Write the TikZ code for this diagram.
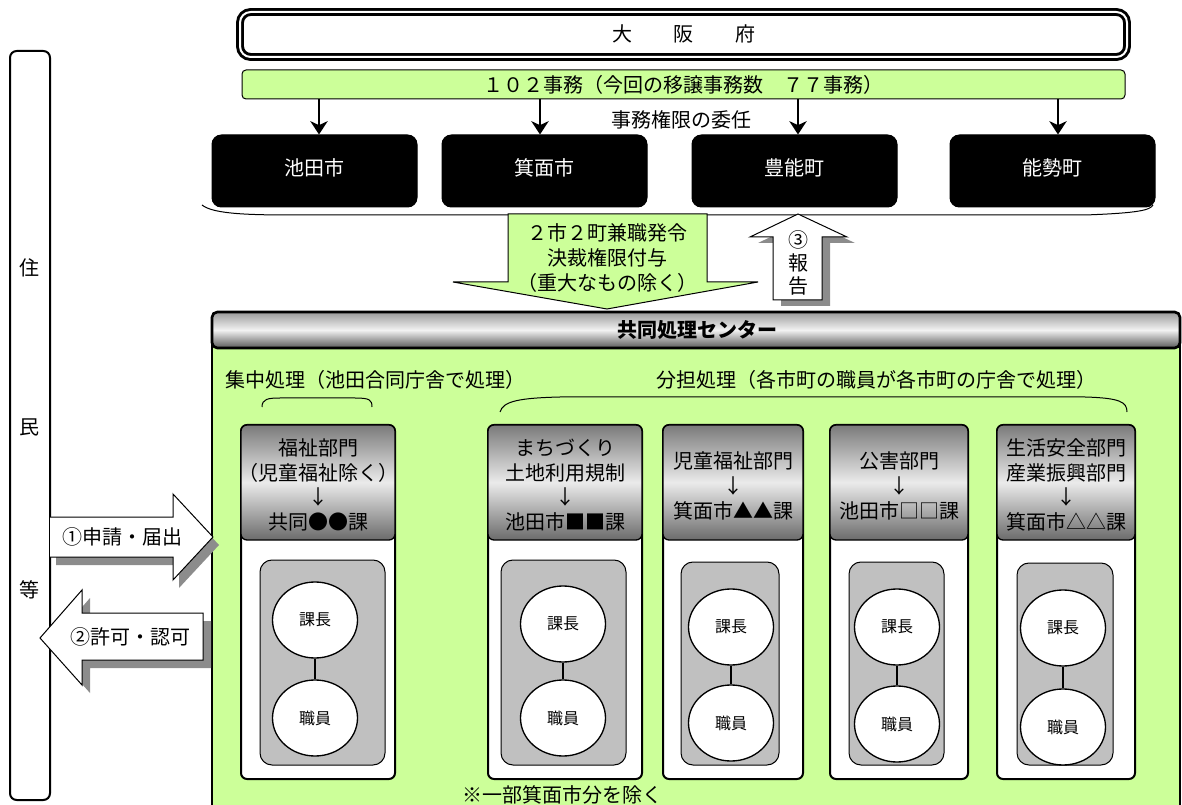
\documentclass[tikz,border=0pt]{standalone}
\usepackage{fontspec}
\setmainfont{Noto Sans CJK JP}
\usetikzlibrary{arrows.meta,fit,shapes.geometric}

\definecolor{kgreen}{RGB}{204,255,153}
\definecolor{kgray}{RGB}{192,192,192}

\tikzset{every picture/.style={line width=0.75pt},
  lbl/.style={font=\fontsize{15}{18.5}\selectfont, align=center, inner sep=0pt},
  blackbox/.style={draw, fill=black, rounded corners=7pt, inner sep=0pt},
  deptbox/.style={draw, fill=white, line width=1.5pt, rounded corners=4.5pt, inner sep=0pt},
  depthead/.style={draw, line width=1pt, rounded corners=4.5pt, inner sep=0pt, top color=black!52, bottom color=black!58, middle color=black!8},
  staffbox/.style={draw, fill=kgray, rounded corners=9pt, inner sep=0pt},
  post/.style={draw, line width=1pt, fill=white, ellipse, minimum width=63.75pt, minimum height=57pt, inner sep=0pt, font=\fontsize{12}{14}\selectfont},
  delegate/.style={line width=1.5pt, -{Stealth[length=10pt,width=13pt,inset=3pt]}},
  blockarrow/.style={draw, fill=white},
  shadow/.style={fill=black!45, draw=none}
}

\begin{document}
\begin{tikzpicture}[x=0.75pt,y=0.75pt,yscale=-1,xscale=1]
\useasboundingbox (0,0) rectangle (1182,805);

% Text Node
\node[draw, line width=1.5pt, rounded corners=5pt, fill=white, fit={(10,51) (50,800)}, inner sep=0pt] (jumin) {};
\node[lbl] (jumin1) at (29,268) {住};
\node[lbl] (jumin2) at (29,427) {民};
\node[lbl] (jumin3) at (29,590) {等};

% Text Node
\node[draw, double, double distance=1.5pt, line width=2.2pt, rounded corners=8pt, fit={(240,12) (1127,57)}, inner sep=0pt] (osaka) {};
\node[lbl] (osakatxt) at (684,34) {大\hspace{31pt}阪\hspace{31pt}府};

% Text Node
\node[draw, fill=kgreen, rounded corners=3pt, fit={(242,70) (1125,99)}, inner sep=0pt] (jimu) {};
\node[lbl] (jimutxt) at (683,85) {１０２事務（今回の移譲事務数　７７事務）};
\node[lbl] (inin) at (681,120) {事務権限の委任};

% Text Node
\node[blackbox, fit={(212,135) (417,207)}] (ikeda) {};
\node[blackbox, fit={(442,135) (647,207)}] (mino) {};
\node[blackbox, fit={(692,135) (897,207)}] (toyono) {};
\node[blackbox, fit={(950,135) (1155,207)}] (nose) {};
\node[lbl, text=white] (ikedatxt) at (314,168) {池田市};
\node[lbl, text=white] (minotxt) at (544,168) {箕面市};
\node[lbl, text=white] (toyonotxt) at (794,168) {豊能町};
\node[lbl, text=white] (nosetxt) at (1052,168) {能勢町};

% Connection
\draw[delegate] (jimu.south -| 319,0) -- (ikeda.north -| 319,0);
\draw[delegate] (jimu.south -| 540,0) -- (mino.north -| 540,0);
\draw[delegate] (jimu.south -| 798,0) -- (toyono.north -| 798,0);
\draw[delegate] (jimu.south -| 1058,0) -- (nose.north -| 1058,0);

% brace under the four
\draw (202,205) .. controls (212,213) and (240,215) .. (290,215) -- (1085,215) .. controls (1140,213) and (1150,210) .. (1153,205);

% Center frame
\draw[fill=kgreen, line width=2pt] (212,330) rectangle (1180,820);
\node[draw, line width=2pt, rounded corners=4pt, top color=black!40, bottom color=black!65, middle color=black!5, fit={(212,312) (1180,348)}, inner sep=0pt] (center) {};
\node[lbl] (centertxt) at (697,330) {\bfseries 共同処理センター};

% big arrow down
\draw[fill=kgreen] (508,214) -- (707,214) -- (707,282) -- (758,282) -- (607,309) -- (453,282) -- (508,282) -- cycle;
\node[lbl] (kenshoku) at (607,258) {２市２町兼職発令\\決裁権限付与\\（重大なもの除く）};

% arrow up
\fill[shadow, shift={(8,6)}] (773,300) -- (822,300) -- (822,237) -- (847,237) -- (798,214) -- (750,237) -- (773,237) -- cycle;
\draw[blockarrow] (773,300) -- (822,300) -- (822,237) -- (847,237) -- (798,214) -- (750,237) -- (773,237) -- cycle;
\node[lbl, font=\fontsize{15}{17}\selectfont] (houkoku) at (798,263) {③\\報\\告};

% arrows left
\fill[shadow, shift={(6,8)}] (50,517) -- (173,517) -- (173,494) -- (213,537) -- (173,580) -- (173,557) -- (50,557) -- cycle;
\draw[blockarrow] (50,517) -- (173,517) -- (173,494) -- (213,537) -- (173,580) -- (173,557) -- (50,557);
\node[lbl] (shinsei) at (122,537) {①申請・届出};

\fill[shadow, shift={(8,8)}] (40,638) -- (82,590) -- (82,613) -- (203,613) -- (203,660) -- (82,660) -- (82,685) -- cycle;
\draw[blockarrow] (40,638) -- (82,590) -- (82,613) -- (203,613) -- (203,660) -- (82,660) -- (82,685) -- cycle;
\node[lbl] (kyoka) at (130,637) {②許可・認可};

% Text Node
\node[lbl, anchor=west] (shuchu) at (225,380) {集中処理（池田合同庁舎で処理）};
\node[lbl, anchor=west] (buntan) at (656,380) {分担処理（各市町の職員が各市町の庁舎で処理）};
\draw (262,407) .. controls (262,399) and (268,398) .. (280,398) -- (355,398) .. controls (370,398) and (372,400) .. (372,407);
\draw (500,412) .. controls (503,401) and (520,398) .. (560,397) -- (1085,397) .. controls (1120,398) and (1127,402) .. (1127,412);

% Dept 1
\node[deptbox, fit={(241,425) (395,779)}] (dept1) {};
\node[depthead, fit={(241,425) (395,540)}] (head1) {};
\node[lbl] (head1txt) at (318,485) {福祉部門\\（児童福祉除く）\\↓\\共同●●課};
\node[staffbox, fit={(260,560) (385,765)}] (staff1) {};
\node[post] (chief1) at (315,620) {課長};
\node[post] (clerk1) at (315,718) {職員};
\draw[line width=1.5pt] (chief1) -- (clerk1);

% Dept 2
\node[deptbox, fit={(488,425) (642,779)}] (dept2) {};
\node[depthead, fit={(488,425) (642,540)}] (head2) {};
\node[lbl] (head2txt) at (565,485) {まちづくり\\土地利用規制\\↓\\池田市■■課};
\node[staffbox, fit={(501,560) (626,765)}] (staff2) {};
\node[post] (chief2) at (563,624) {課長};
\node[post] (clerk2) at (563,718) {職員};
\draw[line width=1.5pt] (chief2) -- (clerk2);

% Dept 3
\node[deptbox, fit={(663,425) (803,779)}] (dept3) {};
\node[depthead, fit={(663,425) (803,540)}] (head3) {};
\node[lbl] (head3txt) at (733,486) {児童福祉部門\\↓\\箕面市▲▲課};
\node[staffbox, fit={(681,562) (779,765)}] (staff3) {};
\node[post] (chief3) at (731,627) {課長};
\node[post] (clerk3) at (731,723) {職員};
\draw[line width=1.5pt] (chief3) -- (clerk3);

% Dept 4
\node[deptbox, fit={(830,425) (968,779)}] (dept4) {};
\node[depthead, fit={(830,425) (968,540)}] (head4) {};
\node[lbl] (head4txt) at (899,486) {公害部門\\↓\\池田市□□課};
\node[staffbox, fit={(849,562) (944,765)}] (staff4) {};
\node[post] (chief4) at (897,627) {課長};
\node[post] (clerk4) at (897,724) {職員};
\draw[line width=1.5pt] (chief4) -- (clerk4);

% Dept 5
\node[deptbox, fit={(997,425) (1135,779)}] (dept5) {};
\node[depthead, fit={(997,425) (1135,540)}] (head5) {};
\node[lbl] (head5txt) at (1066,485) {生活安全部門\\産業振興部門\\↓\\箕面市△△課};
\node[staffbox, fit={(1017,563) (1113,765)}] (staff5) {};
\node[post] (chief5) at (1063,628) {課長};
\node[post] (clerk5) at (1063,727) {職員};
\draw[line width=1.5pt] (chief5) -- (clerk5);

% Text Node
\node[lbl, anchor=west] (note) at (462,795) {※一部箕面市分を除く};

\end{tikzpicture}
\end{document}
